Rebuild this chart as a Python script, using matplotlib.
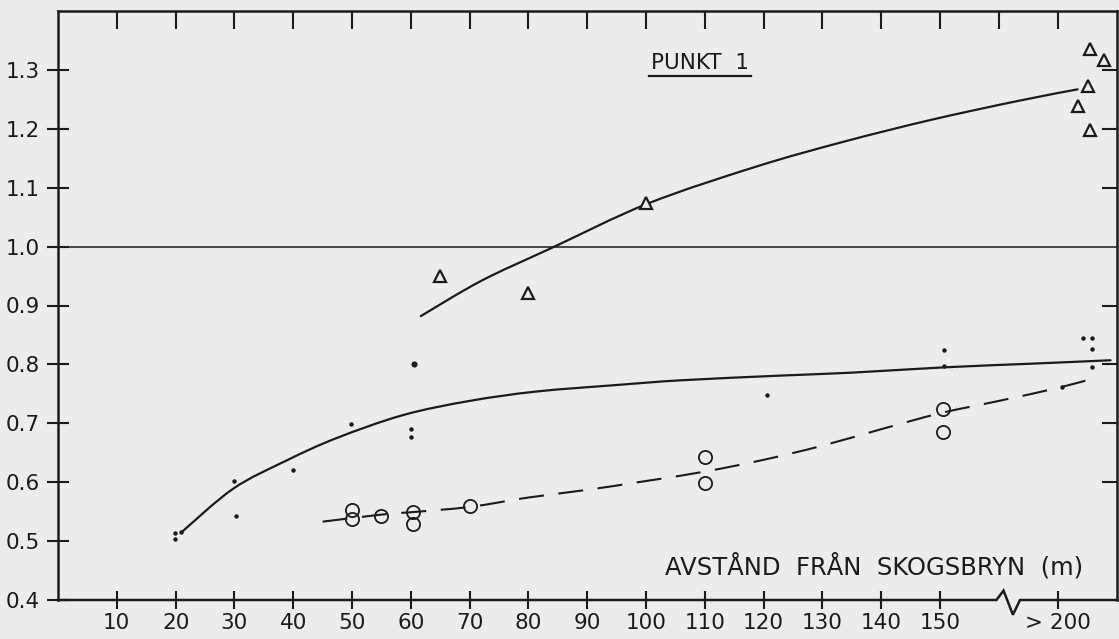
import matplotlib
matplotlib.use("Agg")
import matplotlib.pyplot as plt
import matplotlib.transforms as mtransforms
from matplotlib.path import Path
from matplotlib.patches import PathPatch

# ---- measurements ---------------------------------------------------------
# triangles (upper series)
tri_x = [65, 80, 100, 175.5, 177.9, 175.2, 173.5, 175.5]
tri_y = [0.950, 0.921, 1.074, 1.335, 1.316, 1.272, 1.238, 1.198]

# open circles (lower series)
circ_x = [50, 50, 55, 60.3, 60.3, 70, 110, 110, 150.5, 150.5]
circ_y = [0.552, 0.537, 0.542, 0.550, 0.529, 0.559, 0.642, 0.598, 0.725, 0.685]

# small dots (middle series)
dot_x = [19.9, 19.9, 21.0, 30.0, 30.2, 39.9, 49.9, 60.1, 60.1, 120.5,
         150.7, 150.7, 170.7, 174.3, 175.8, 175.8, 175.8]
dot_y = [0.513, 0.503, 0.515, 0.602, 0.543, 0.620, 0.699, 0.691, 0.677, 0.748,
         0.824, 0.797, 0.762, 0.844, 0.844, 0.826, 0.795]
bigdot_x = [60.6]
bigdot_y = [0.801]

# fitted curves
fit_tri_x = [61.7, 72.0, 83.8, 100.3, 118.8, 133.6, 148.4, 163.1, 173.4]
fit_tri_y = [0.882, 0.942, 0.997, 1.073, 1.136, 1.178, 1.215, 1.247, 1.267]

fit_dot_x = [21.0, 29.8, 38.9, 47.4, 58.7, 70.0, 81.4, 95.0, 105.9,
             122.9, 135.0, 150.7, 165.0, 179.0]
fit_dot_y = [0.515, 0.589, 0.637, 0.675, 0.714, 0.738, 0.754, 0.765, 0.773,
             0.781, 0.786, 0.795, 0.801, 0.807]

fit_circ_x = [45, 55, 60, 70, 80, 90, 100, 110, 120, 130, 140, 150, 160, 170, 176]
fit_circ_y = [0.533, 0.545, 0.549, 0.558, 0.574, 0.587, 0.602, 0.618, 0.638,
              0.662, 0.690, 0.717, 0.738, 0.760, 0.776]

xtick_pos = [10, 20, 30, 40, 50, 60, 70, 80, 90, 100, 110, 120, 130, 140, 150, 170]
xtick_lab = ["10", "20", "30", "40", "50", "60", "70", "80", "90", "100",
             "110", "120", "130", "140", "150", "> 200"]
top_ticks = [10, 20, 30, 40, 50, 60, 70, 80, 90, 100, 110, 120, 130, 140, 150, 160, 170]
ytick_pos = [0.4, 0.5, 0.6, 0.7, 0.8, 0.9, 1.0, 1.1, 1.2, 1.3]
ytick_lab = ["0.4", "0.5", "0.6", "0.7", "0.8", "0.9", "1.0", "1.1", "1.2", "1.3"]
right_ticks = [0.6, 0.7, 0.8, 0.9, 1.1, 1.2, 1.3]

title_text = "PUNKT  1"
xlabel_text = "AVSTÅND  FRÅN  SKOGSBRYN  (m)"

# ---- style ----------------------------------------------------------------
INK = "#1b1b1b"
PAPER = "#ececec"
plt.rcParams["font.family"] = ["DejaVu Sans"]


def smooth_path(xs, ys):
    """Catmull-Rom curve through the given points, as a cubic Bezier path."""
    pts = list(zip(xs, ys))
    verts = [pts[0]]
    codes = [Path.MOVETO]
    n = len(pts)
    for i in range(n - 1):
        p0 = pts[i - 1] if i > 0 else pts[i]
        p1 = pts[i]
        p2 = pts[i + 1]
        p3 = pts[i + 2] if i + 2 < n else pts[i + 1]
        c1 = (p1[0] + (p2[0] - p0[0]) / 6.0, p1[1] + (p2[1] - p0[1]) / 6.0)
        c2 = (p2[0] - (p3[0] - p1[0]) / 6.0, p2[1] - (p3[1] - p1[1]) / 6.0)
        verts += [c1, c2, p2]
        codes += [Path.CURVE4] * 3
    return Path(verts, codes)


W, H = 1119, 639
fig = plt.figure(figsize=(W / 100, H / 100), dpi=100, facecolor=PAPER)
ax = fig.add_axes([58 / W, 39 / H, (1117 - 58) / W, (600 - 11) / H])
ax.set_facecolor(PAPER)
ax.set_xlim(0, 180.1)
ax.set_ylim(0.4, 1.4)

for side in ("left", "top", "right"):
    ax.spines[side].set_linewidth(1.8)
    ax.spines[side].set_color(INK)
ax.spines["bottom"].set_visible(False)

# bottom axis line with a break mark before the last tick
trans = mtransforms.blended_transform_factory(ax.transData, ax.transAxes)
ax.plot([0, 159.6, 160.8, 162.4, 163.6, 180.1],
        [0, 0, 0.016, -0.025, 0, 0],
        transform=trans, color=INK, lw=1.8, clip_on=False,
        solid_joinstyle="miter", zorder=5)

ax.set_xticks(xtick_pos)
ax.set_xticklabels(xtick_lab)
ax.set_yticks(ytick_pos)
ax.set_yticklabels(ytick_lab)
ax.tick_params(axis="x", direction="inout", length=13, width=1.5, color=INK,
               labelsize=15.5, labelcolor=INK, pad=3)
ax.tick_params(axis="y", direction="inout", length=16, width=1.5, color=INK,
               labelsize=15.5, labelcolor=INK, pad=5)

# inward ticks on top and right
axt = ax.secondary_xaxis("top")
axt.set_xticks(top_ticks)
axt.set_xticklabels([])
axt.tick_params(direction="in", length=13, width=1.5, color=INK)
axt.spines["top"].set_visible(False)
axr = ax.secondary_yaxis("right")
axr.set_yticks(right_ticks)
axr.set_yticklabels([])
axr.tick_params(direction="in", length=11, width=1.5, color=INK)
axr.spines["right"].set_visible(False)

# reference level
ax.axhline(1.0, color=INK, lw=1.1, zorder=1)

# fitted curves
ax.add_patch(PathPatch(smooth_path(fit_tri_x, fit_tri_y), fill=False,
                       edgecolor=INK, lw=1.6, capstyle="round"))
ax.add_patch(PathPatch(smooth_path(fit_dot_x, fit_dot_y), fill=False,
                       edgecolor=INK, lw=1.6, capstyle="round"))
ax.add_patch(PathPatch(smooth_path(fit_circ_x, fit_circ_y), fill=False,
                       edgecolor=INK, lw=1.5, linestyle=(0, (12, 7))))

# points
ax.plot(tri_x, tri_y, linestyle="none", marker="^", ms=9, mfc=PAPER,
        mec=INK, mew=1.6, zorder=6)
ax.plot(circ_x, circ_y, linestyle="none", marker="o", ms=9.5, mfc="none",
        mec=INK, mew=1.3, zorder=6)
ax.plot(dot_x, dot_y, linestyle="none", marker="o", ms=3.2, mfc=INK,
        mec=INK, mew=0, zorder=6)
ax.plot(bigdot_x, bigdot_y, linestyle="none", marker="o", ms=4.4, mfc=INK,
        mec=INK, mew=0, zorder=6)

# annotations
t = ax.text(109.2, 1.301, title_text, ha="center", va="baseline",
            fontsize=15.5, color=INK)
ax.text(103.2, 0.443, xlabel_text, ha="left", va="baseline",
        fontsize=17.5, color=INK)

# underline the title
fig.canvas.draw()
bb = t.get_window_extent(fig.canvas.get_renderer())
inv = ax.transData.inverted()
(x0, _), (x1, _) = inv.transform([(bb.x0 - 2, bb.y0), (bb.x1 + 2, bb.y0)])
ax.plot([x0, x1], [1.290, 1.290], color=INK, lw=1.6)

fig.savefig("out.png", dpi=100, facecolor=PAPER)
